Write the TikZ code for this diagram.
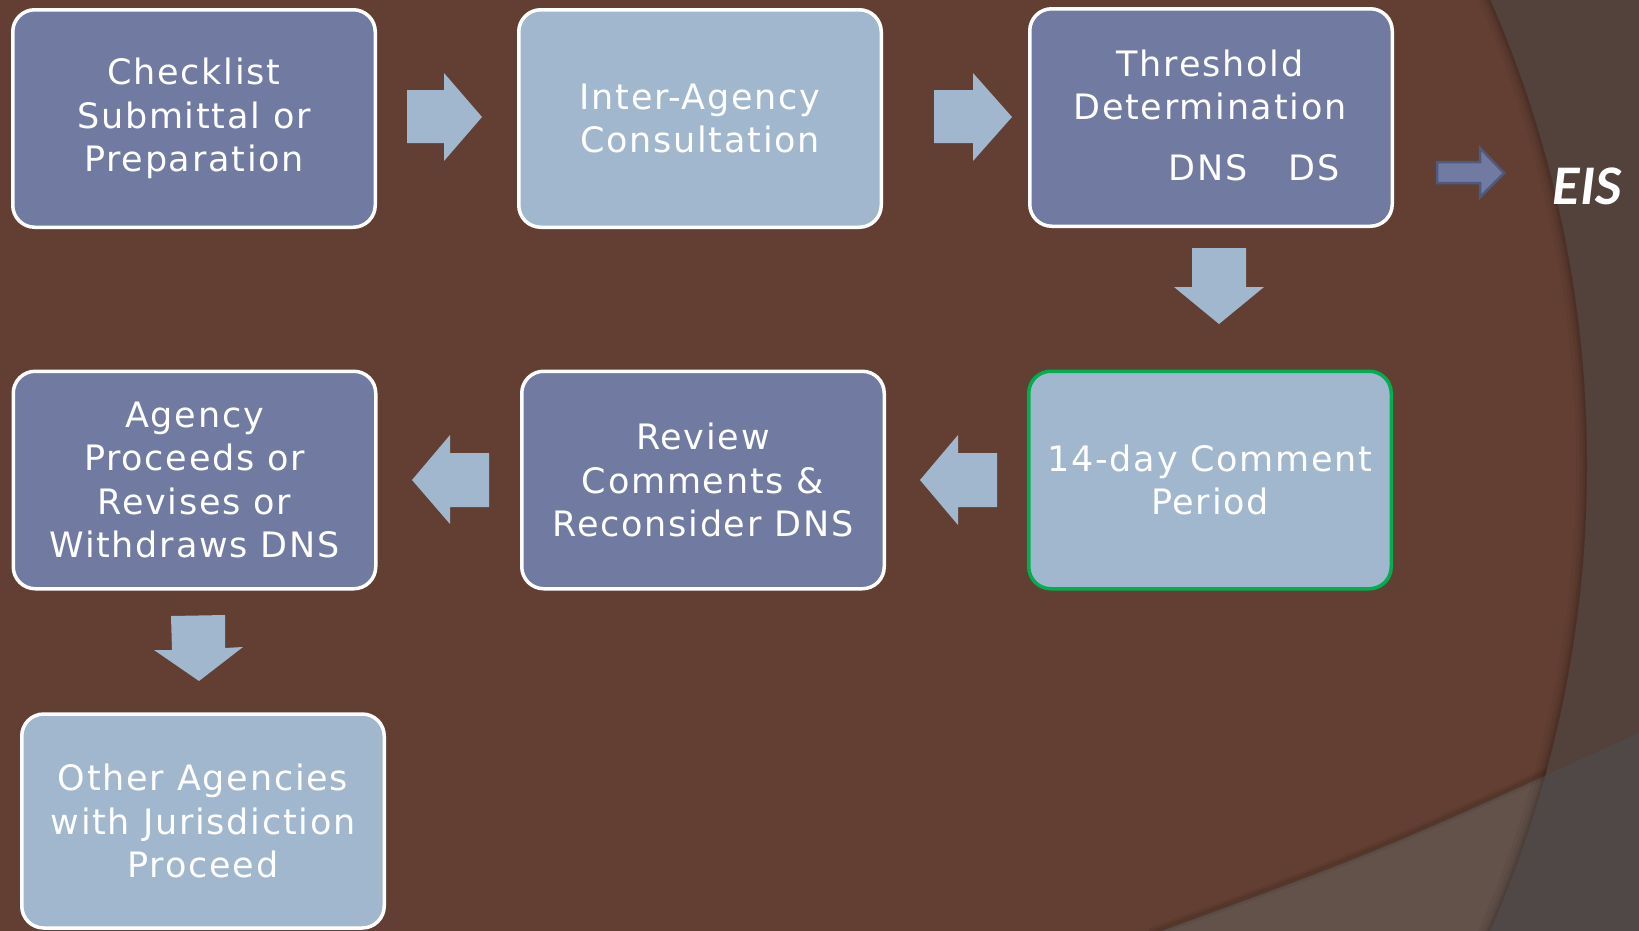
\documentclass[tikz,border=0pt]{standalone}
\usepackage{fontspec}
\newfontfamily\boxfont[LetterSpace=5]{DejaVu Sans}
\newfontfamily\eisfont{Carlito}

\definecolor{bgbrown}{HTML}{623F32}
\definecolor{bgout}{HTML}{52423B}
\definecolor{bandin}{HTML}{63524A}
\definecolor{bandout}{HTML}{504846}
\definecolor{boxdark}{HTML}{717BA1}
\definecolor{boxlight}{HTML}{A1B7CD}
\definecolor{arrowblue}{HTML}{A1B7CD}
\definecolor{okgreen}{HTML}{00B050}
\definecolor{eisfill}{HTML}{717BA1}
\definecolor{eisline}{HTML}{4F5A80}

\tikzset{
  flowbox/.style={rectangle, rounded corners=22pt, draw=white, line width=3.5pt,
    minimum width=362.5pt, minimum height=217.5pt, inner sep=0pt, outer sep=0pt,
    text=white, align=center, font=\boxfont\fontsize{35}{43.5}\selectfont},
  darkbox/.style={flowbox, fill=boxdark},
  lightbox/.style={flowbox, fill=boxlight},
  boxlabel/.style={text=white, inner sep=0pt, anchor=base,
    font=\boxfont\fontsize{35}{43.5}\selectfont},
  blockarrow/.style={fill=arrowblue},
}

\begin{document}
\begin{tikzpicture}[x=1pt,y=-1pt]
\useasboundingbox (0,0) rectangle (1639,930);
\clip (0,0) rectangle (1639,930);

% backdrop: dark field, large brown disc, lighter band along the bottom
\fill[bgout] (-5,-5) rectangle (1645,935);
\fill[bandout] (1150,935) .. controls (1380,851) .. (1645,730) -- (1645,935) -- cycle;
\fill[bgbrown] (424,465) circle[radius=1163];
\begin{scope}
  \clip (424,465) circle[radius=1163];
  \fill[bandin] (1150,935) .. controls (1380,851) .. (1645,730) -- (1645,935) -- cycle;
  \foreach \w/\o in {22/0.04,14/0.05,8/0.06,4/0.08}
    \draw[line width=\w pt, black, opacity=\o] (424,465) circle[radius=1163];
  \foreach \w/\o in {10/0.05,5/0.08}
    \draw[line width=\w pt, black, opacity=\o] (1150,933) .. controls (1380,849) .. (1645,728);
\end{scope}

% process boxes
\node[darkbox]  (check)   at (194,118.5) {Checklist\\Submittal or\\Preparation};
\node[lightbox] (consult) at (700,118.5) {Inter-Agency\\Consultation};
\node[darkbox]  (thresh)  at (1211,117.5) {};
\node[lightbox, draw=okgreen] (comment) at (1210,480) {14-day Comment\\Period};
\node[darkbox]  (review)  at (703,480) {Review\\Comments \&\\Reconsider DNS};
\node[darkbox]  (proceed) at (194.5,480) {Agency\\Proceeds or\\Revises or\\Withdraws DNS};
\node[lightbox, minimum height=214pt] (others) at (203,821) {Other Agencies\\with Jurisdiction\\Proceed};

% threshold determination labels
\node[boxlabel] (threshA) at (1210,76)  {Threshold};
\node[boxlabel] (threshB) at (1210,119) {Determination};
\node[boxlabel] (dns)     at (1208,180) {DNS};
\node[boxlabel] (ds)      at (1314,180) {DS};

% block arrows between the steps
\fill[blockarrow] (407,90) -- (444,90) -- (444,73) -- (482,117) -- (444,161) -- (444,143) -- (407,143) -- cycle;
\fill[blockarrow] (934,90) -- (973,90) -- (973,73) -- (1012,117) -- (973,161) -- (973,143) -- (934,143) -- cycle;
\fill[blockarrow] (1192,248) -- (1246,248) -- (1246,287) -- (1264,287) -- (1219,324) -- (1174,287) -- (1192,287) -- cycle;
\fill[blockarrow] (997,453) -- (958,453) -- (958,435) -- (920,480) -- (958,525) -- (958,507) -- (997,507) -- cycle;
\fill[blockarrow] (489,453) -- (450,453) -- (450,435) -- (412,480) -- (450,524) -- (450,507) -- (489,507) -- cycle;
\fill[blockarrow] (171,616) -- (225,615) -- (225,648) -- (243,647) -- (199,681) -- (154,650) -- (172,650) -- cycle;

% branch to EIS
\draw[fill=eisfill, draw=eisline, line width=2.5pt, line join=miter]
  (1437,162) -- (1480,162) -- (1480,148) -- (1504,173) -- (1480,197) -- (1480,183) -- (1437,183) -- cycle;
\node[text=white, inner sep=0pt, font=\eisfont\bfseries\itshape\fontsize{56}{60}\selectfont] (eis) at (1587,186) {EIS};
\end{tikzpicture}
\end{document}
